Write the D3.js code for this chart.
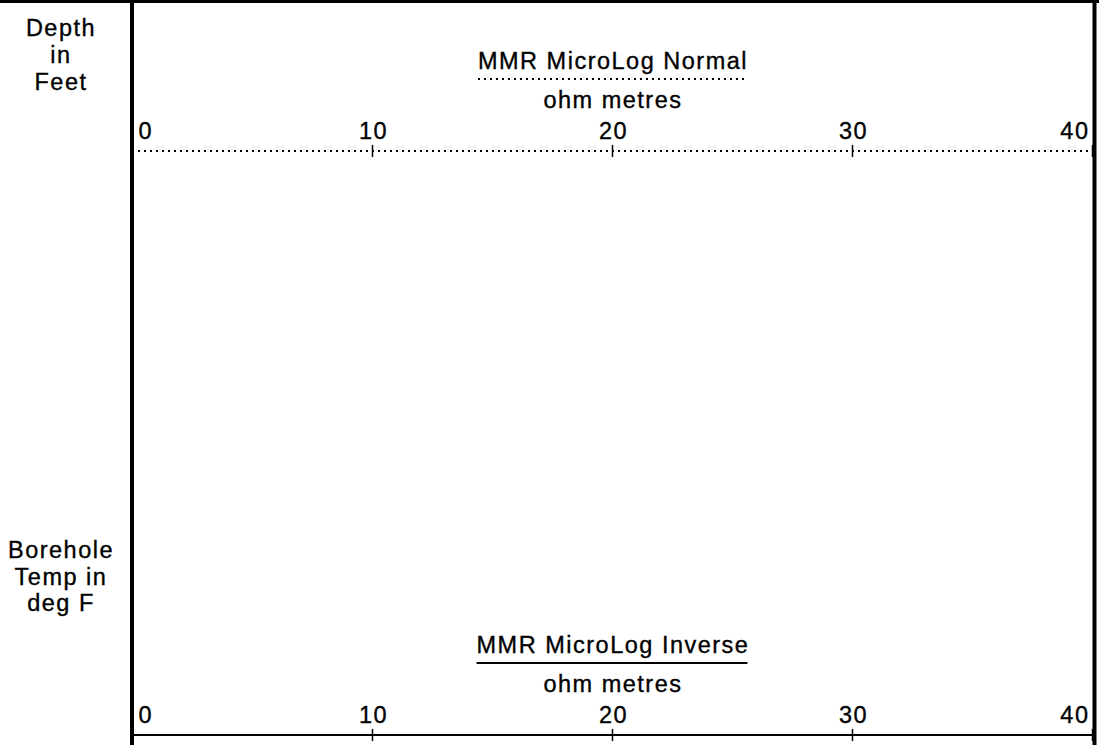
<!DOCTYPE html>
<html lang="en">
<head>
    <meta charset="UTF-8">
    <script src="https://cdn.jsdelivr.net/npm/d3@7"></script>
    <title>MMR MicroLog header</title>
    <style>
        body { margin: 0; background: #fff; }
        svg text {
            font-family: "Liberation Sans", Arial, sans-serif;
            font-size: 23.5px;
            letter-spacing: 1.5px;
            fill: #000;
            stroke: #000;
            stroke-width: 0.35px;
        }
    </style>
</head>
<body>
    <div id="chart"></div>

    <script>
        // ---------- data ----------
        const tickValues = [0, 10, 20, 30, 40];
        const scaleDomain = [0, 40];
        const tracks = ["MMR MicroLog Normal", "MMR MicroLog Inverse"];
        const trackUnits = ["ohm metres", "ohm metres"];
        const trackDash = ["2,4", null];
        const depthLabel = ["Depth", "in", "Feet"];
        const tempLabel = ["Borehole", "Temp in", "deg F"];

        // ---------- layout ----------
        const width = 1099, height = 745;
        const leftEdge = 132, rightEdge = 1094.5;

        const svg = d3.select("#chart").append("svg")
            .attr("width", width)
            .attr("height", height);

        const x = d3.scaleLinear()
            .domain(scaleDomain)
            .range([132, 1092]);

        // left column labels
        const drawStack = (lines, cx, y0, step) => {
            svg.append("g").selectAll("text")
                .data(lines)
                .enter()
                .append("text")
                .attr("x", cx)
                .attr("y", (d, i) => y0 + i * step)
                .attr("text-anchor", "middle")
                .text(d => d);
        };
        drawStack(depthLabel, 61, 36, 27);
        drawStack(tempLabel, 61, 558, 26.5);

        // one header block per track, positioned by its scale line
        const lineY = [151, 735];
        tracks.forEach((name, i) => {
            const g = svg.append("g").attr("transform", `translate(0,${lineY[i]})`);

            const title = g.append("text")
                .attr("x", x(20) + 1)
                .attr("y", -82)
                .attr("text-anchor", "middle")
                .text(name);
            const w = title.node().getComputedTextLength();

            g.append("line")
                .attr("x1", x(20) - w / 2 + 1)
                .attr("x2", x(20) + w / 2 - 1)
                .attr("y1", -72).attr("y2", -72)
                .attr("stroke", "#000")
                .attr("stroke-width", 2)
                .attr("stroke-dasharray", trackDash[i]);

            g.append("text")
                .attr("x", x(20) + 1)
                .attr("y", -43)
                .attr("text-anchor", "middle")
                .text(trackUnits[i]);

            // scale line
            g.append("line")
                .attr("x1", leftEdge).attr("x2", rightEdge)
                .attr("y1", 0).attr("y2", 0)
                .attr("stroke", "#000")
                .attr("stroke-width", 2)
                .attr("stroke-dasharray", trackDash[i]);

            const axis = d3.axisTop(x)
                .tickValues(tickValues)
                .tickSize(6)
                .tickPadding(6);
            const ag = g.append("g").call(axis);
            ag.select(".domain").remove();
            ag.selectAll(".tick line").attr("y1", -6).attr("y2", 6).attr("stroke-width", 1.5);
            ag.selectAll(".tick text")
                .attr("font-family", null)
                .attr("font-size", null)
                .attr("text-anchor", d => d === scaleDomain[0] ? "start" : d === scaleDomain[1] ? "end" : "middle")
                .attr("dx", d => d === scaleDomain[0] ? 6 : d === scaleDomain[1] ? -3 : 1);
        });

        // frame
        svg.append("line")
            .attr("x1", 0).attr("x2", width)
            .attr("y1", 1.5).attr("y2", 1.5)
            .attr("stroke", "#000").attr("stroke-width", 3);
        [leftEdge, rightEdge].forEach(xx => {
            svg.append("line")
                .attr("x1", xx).attr("x2", xx)
                .attr("y1", 0).attr("y2", height)
                .attr("stroke", "#000").attr("stroke-width", 4);
        });
    </script>
</body>
</html>
